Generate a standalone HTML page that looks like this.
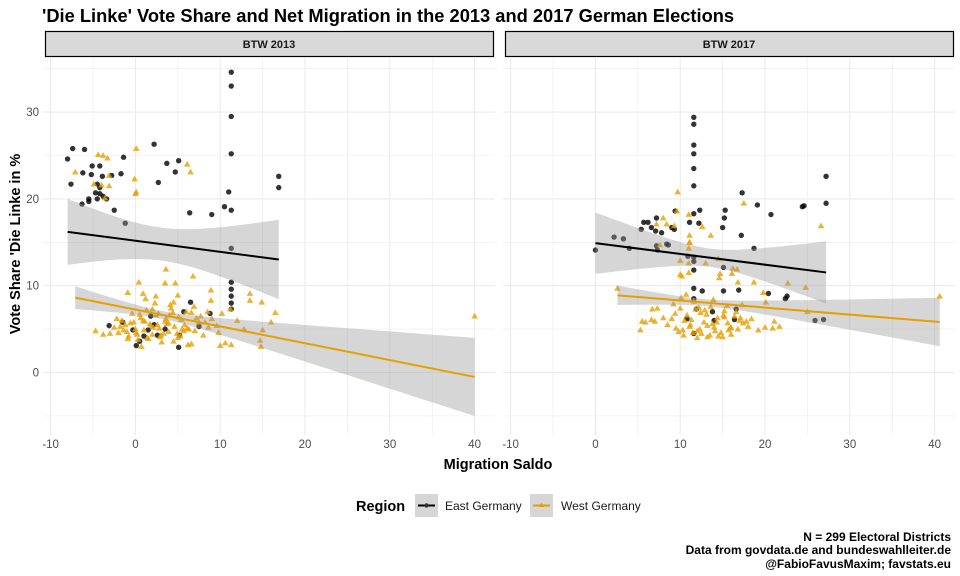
<!DOCTYPE html>
<html><head><meta charset="utf-8"><style>
body{margin:0;background:#fff;}
svg{display:block;font-family:"Liberation Sans",Arial,sans-serif;}
</style></head><body>
<svg id="chart" width="960" height="576" viewBox="0 0 960 576">
<text x="42" y="22" font-size="18.3" font-weight="bold" fill="#000">'Die Linke' Vote Share and Net Migration in the 2013 and 2017 German Elections</text>
<g id="panels"></g>
<text x="498" y="469" font-size="14.5" font-weight="bold" text-anchor="middle">Migration Saldo</text>
<text transform="translate(20,244) rotate(-90)" font-size="14.5" font-weight="bold" text-anchor="middle">Vote Share 'Die Linke in %</text>
<g>
<text x="356" y="511" font-size="14.5" font-weight="bold">Region</text>
<g>
<rect x="415" y="494" width="23" height="23" fill="#d6d6d6"/>
<line x1="418" y1="505.5" x2="435" y2="505.5" stroke="#000" stroke-width="2"/>
<circle cx="426.5" cy="505.5" r="2.2" fill="#333"/>
<text x="445" y="510" font-size="12" fill="#1a1a1a">East Germany</text></g>
<g>
<rect x="530" y="494" width="23" height="23" fill="#d6d6d6"/>
<line x1="533" y1="505.5" x2="550" y2="505.5" stroke="#E69F00" stroke-width="2"/>
<path d="M541.5,502.5 L544,507 L539,507 Z" fill="#E69F00"/>
<text x="561" y="510" font-size="12" fill="#1a1a1a">West Germany</text></g>
</g>
<g font-size="12" font-weight="bold" text-anchor="end">
<text x="951" y="541">N = 299 Electoral Districts</text>
<text x="951" y="554">Data from govdata.de and bundeswahlleiter.de</text>
<text x="951" y="568">@FabioFavusMaxim; favstats.eu</text>
</g>
</svg>
<script>
const panelTitles = ["BTW 2013", "BTW 2017"];
const xTicks = [-10, 0, 10, 20, 30, 40];
const yTicks = [0, 10, 20, 30];
// 2013 East
const e13x = [11.3,11.3,11.3,11.3,16.9,16.9,2.2,-7.4,-6.0,-8.0,-1.4,-5.1,-4.2,-6.2,-5.2,-3.9,-2.8,-1.7,-7.6,-4.5,-4.2,-4.7,-4.2,-3.8,-5.5,-5.5,-4.5,-3.4,-6.3,-2.5,-1.2,3.7,5.1,4.7,2.7,6.4,9.0,10.5,11.0,11.3,11.3,11.3,11.3,11.3,11.3,11.3,-3.1,-1.5,0.1,1.8,2.2,-0.3,5.7,6.5,5.2,8.8,1.5,2.6,5.1,0.5,1.0,3.5,7.5];
const e13y = [34.6,33.0,29.5,25.2,22.6,21.3,26.3,25.8,25.7,24.6,24.8,23.8,23.8,23.0,22.8,22.6,22.7,22.9,21.7,21.7,21.3,20.7,20.6,20.3,20.0,19.7,20.0,20.0,19.4,18.7,17.2,24.1,24.4,23.1,21.9,18.4,18.2,19.1,20.8,18.7,14.3,10.4,9.6,8.8,8.0,7.3,5.4,5.8,3.1,6.5,5.5,4.9,7.0,8.1,4.3,6.8,4.9,4.3,2.9,3.6,4.2,5.0,5.3];
// 2013 West
const w13x = [0.1,-4.4,-3.8,-3.3,-7.1,6.1,6.5,-3.1,-0.1,-4.9,-3.1,0.1,0.0,-4.0,-3.6,3.6,0.4,3.5,4.7,6.8,-0.9,0.9,8.9,13.5,13.5,14.9,16.5,1.2,2.4,4.5,5.0,8.9,-4.7,-3.8,10.0,11.3,14.8,15.0,11.2,10.2,40.0,16.0,14.7,
 -2.5,-2.0,-1.6,-1.2,-0.8,-0.4,0.0,0.3,0.6,1.0,1.3,1.7,2.0,2.4,2.8,3.1,3.5,3.9,4.2,4.6,5.0,5.4,5.8,6.2,6.6,7.0,7.5,8.0,8.5,9.0,9.6,-2.2,-1.4,-0.6,0.2,0.9,1.5,2.1,2.7,3.3,3.9,4.5,5.1,5.7,6.3,6.9,7.7,-1.8,-0.9,0.1,1.1,2.0,2.9,3.7,4.4,5.3,6.1,7.2,8.2,-1.0,0.5,1.8,3.0,4.1,5.5,6.6,-0.2,1.4,2.6,3.6,4.9,6.0,8.6,9.8,12.0,12.8,10.6,-3.0,0.7,2.3,4.0];
const w13y = [25.8,25.1,25.0,24.7,23.1,24.0,23.1,22.7,22.3,21.7,21.5,20.8,20.6,21.6,20.1,11.9,10.4,10.3,10.3,11.1,9.2,9.1,9.5,9.1,8.3,8.1,6.9,8.5,8.8,8.1,8.9,8.3,4.8,4.4,3.1,3.2,3.0,4.9,7.3,6.8,6.5,5.8,3.7,
 5.2,4.6,6.0,5.5,4.2,6.8,5.0,3.8,6.3,4.9,7.2,5.6,4.4,6.6,5.1,3.5,5.9,4.7,7.4,5.3,4.0,6.1,5.5,3.2,6.9,4.8,5.8,4.3,7.0,6.2,5.4,6.2,4.9,5.7,4.4,6.0,3.9,5.2,6.8,4.5,5.7,3.6,6.4,4.8,5.0,7.6,6.5,5.3,3.9,4.6,5.9,7.3,4.1,5.6,6.9,4.2,5.1,6.3,5.8,4.7,6.7,5.4,4.3,7.8,5.0,3.3,5.8,4.0,5.5,6.2,4.5,7.0,5.2,4.6,6.0,5.0,3.4,4.5,3.0,8.0,6.6];
// 2017 East
const e17x = [11.6,11.6,11.6,11.6,11.6,11.6,27.2,27.2,17.3,19.1,20.7,24.4,24.6,15.3,15.2,15.0,17.2,12.3,11.6,11.1,12.2,9.4,7.2,5.7,6.2,6.6,5.4,7.1,7.8,9.0,9.3,2.2,3.3,4.0,0.0,7.2,7.3,8.4,8.6,18.7,10.9,11.6,11.6,11.6,15.1,15.1,16.9,20.4,22.4,22.6,25.9,26.9,11.6,11.9,13.8,16.4,14.0,10.8,11.6,11.6,12.6,16.6];
const e17y = [29.4,28.6,26.2,25.2,23.5,21.5,22.6,19.5,20.7,19.3,18.2,19.1,19.2,18.7,17.8,16.7,15.8,18.7,18.3,17.3,17.2,18.6,17.8,17.3,17.3,16.7,16.5,16.3,16.1,16.7,16.5,15.6,15.4,14.3,14.1,14.6,14.1,14.8,14.7,14.3,13.4,13.3,12.8,11.8,12.1,9.4,9.5,9.1,8.5,8.8,6.0,6.1,4.5,7.3,7.0,6.1,6.0,6.2,8.5,9.7,9.4,7.3];
// 2017 West
const w17x = [9.7,17.5,26.6,2.6,5.3,5.5,5.9,6.6,7.0,6.7,7.3,24.8,22.7,18.7,19.8,20.1,20.0,20.9,21.7,21.1,25.0,40.6,11.1,11.1,11.1,13.6,12.6,8.0,7.2,8.4,9.3,11.0,9.6,7.6,11.0,10.0,11.0,13.0,14.5,16.2,16.7,10.0,10.2,11.0,14.7,14.6,16.8,16.1,
 9.0,9.5,10.0,10.4,10.8,11.2,11.6,12.0,12.4,12.8,13.2,13.6,14.0,14.4,14.8,15.2,15.6,16.0,16.4,16.8,17.3,17.8,18.4,9.2,9.8,10.5,11.1,11.8,12.5,13.1,13.8,14.5,15.2,15.9,16.6,17.4,8.5,9.4,10.3,11.3,12.2,13.2,14.1,15.1,16.0,17.0,18.0,10.1,11.5,12.9,14.3,15.7,17.1,10.7,12.3,13.9,15.5,8.0,19.2,12.0,13.5,15.0];
const w17y = [20.8,19.5,16.9,9.7,4.9,5.9,5.8,6.1,5.9,7.3,7.4,9.8,10.3,10.4,9.2,8.1,5.2,5.1,5.3,5.9,7.0,8.8,15.8,15.0,15.0,15.8,16.8,17.8,17.1,17.1,16.9,18.2,18.6,14.7,14.3,12.9,12.6,12.6,13.1,12.0,11.9,11.3,11.1,11.5,11.4,10.9,10.4,11.4,
 6.2,5.1,7.4,4.3,6.6,5.5,8.2,4.8,6.9,5.8,4.1,7.6,5.2,6.3,4.6,7.1,5.7,4.4,6.5,5.0,7.8,5.9,6.2,7.9,4.7,6.0,5.3,7.3,4.5,6.7,5.6,4.2,6.4,5.1,7.0,5.7,5.5,6.8,4.9,6.1,7.5,5.4,4.8,6.6,5.2,6.0,5.3,8.6,4.6,7.2,5.8,4.9,6.3,9.0,5.0,8.4,7.7,6.3,4.9,4.0,4.3,4.1];
// fitted lines: [intercept, slope, centerX, seAtCenter, seSlopeFactor]
const fitE13 = [15.18, -0.128, 3, 1.9, 0.30];
const fitW13 = [7.25, -0.194, 3, 0.45, 0.121];
const fitE17 = [14.9, -0.124, 13.5, 1.05, 0.25];
const fitW17 = [9.1, -0.081, 13, 0.4, 0.10];

const NS = "http://www.w3.org/2000/svg";
const panelsG = document.getElementById("panels");
const panelLeft = [43, 503], panelW = 452, pTop = 58, pBot = 435;
const xMin = -10.9, kx = 8.48, y0px = 372.5, ky = 8.68;
function mk(tag, attrs, parent){const e=document.createElementNS(NS,tag);for(const k in attrs)e.setAttribute(k,attrs[k]);parent.appendChild(e);return e;}
function sx(p,v){return panelLeft[p] + (v - xMin)*kx;}
function sy(v){return y0px - v*ky;}
const groups = [
 [{x:e13x,y:e13y,f:fitE13,c:"#000",t:"c",n:"east-2013"},{x:w13x,y:w13y,f:fitW13,c:"#E69F00",t:"t",n:"west-2013"}],
 [{x:e17x,y:e17y,f:fitE17,c:"#000",t:"c",n:"east-2017"},{x:w17x,y:w17y,f:fitW17,c:"#E69F00",t:"t",n:"west-2017"}]];
for(let p=0;p<2;p++){
  const g = mk("g",{},panelsG);
  
  
  const L = panelLeft[p], R = L+panelW;
  const st = mk("rect",{x:L+2.5,y:31.5,width:panelW-4,height:25,fill:"#d9d9d9",stroke:"#000","stroke-width":1.2},g);
  
  
  const stt = mk("text",{x:L+panelW/2,y:48,"font-size":11,"font-weight":"bold","text-anchor":"middle",fill:"#1a1a1a"},g);
  stt.textContent = panelTitles[p];
  
  
  for(let v=-10; v<=40; v+=5){
    const X=sx(p,v);
    const gl=mk("line",{x1:X,x2:X,y1:pTop,y2:pBot,stroke:"#ebebeb","stroke-width":v%10===0?1.1:0.6},g);
    
    
  }
  for(let v=-5; v<=35; v+=5){
    const Y=sy(v);
    const gl=mk("line",{x1:L,x2:R,y1:Y,y2:Y,stroke:"#ebebeb","stroke-width":v%10===0?1.1:0.6},g);
    
    
  }
  xTicks.forEach(v=>{
    const t=mk("text",{x:sx(p,v),y:448,"font-size":11.5,"text-anchor":"middle",fill:"#4d4d4d"},g);
    t.textContent=v;
    
    
  });
  if(p===0) yTicks.forEach(v=>{
    const t=mk("text",{x:39,y:sy(v)+4,"font-size":11.5,"text-anchor":"end",fill:"#4d4d4d"},g);
    t.textContent=v;
    
    
  });
  groups[p].forEach(gr=>{
    const pg=mk("g",{},g);
    
    
    for(let i=0;i<gr.x.length;i++){
      const X=sx(p,gr.x[i]), Y=sy(gr.y[i]);
      let m;
      if(gr.t==="c") m=mk("circle",{cx:X,cy:Y,r:2.7,fill:"#000","fill-opacity":0.8},pg);
      else m=mk("path",{d:`M${X},${Y-3.3} L${X+3.3},${Y+2.4} L${X-3.3},${Y+2.4} Z`,fill:"#E69F00","fill-opacity":0.8},pg);
      
      
    }
  });
  groups[p].forEach(gr=>{
    const f=gr.f, lo=Math.min(...gr.x), hi=Math.max(...gr.x);
    const up=[], dn=[];
    for(let k=0;k<=60;k++){
      const xv=lo+(hi-lo)*k/60, m=f[0]+f[1]*xv, hw=Math.sqrt(f[3]*f[3]+f[4]*f[4]*(xv-f[2])*(xv-f[2]));
      up.push(sx(p,xv).toFixed(1)+","+sy(m+hw).toFixed(1));
      dn.unshift(sx(p,xv).toFixed(1)+","+sy(m-hw).toFixed(1));
    }
    const rb=mk("polygon",{points:up.concat(dn).join(" "),fill:"#999","fill-opacity":0.4},g);
    
    
    const ln=mk("line",{x1:sx(p,lo),y1:sy(f[0]+f[1]*lo),x2:sx(p,hi),y2:sy(f[0]+f[1]*hi),stroke:gr.c,"stroke-width":2},g);
    
    
  });
}
</script>
</body></html>
